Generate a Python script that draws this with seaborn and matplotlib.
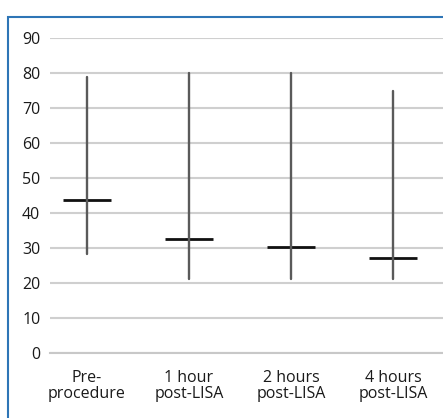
import numpy as np
import pandas as pd
import matplotlib
matplotlib.use("Agg")
import matplotlib.pyplot as plt
import seaborn as sns
from matplotlib.patches import Rectangle

# -----------------------------
# Data
# -----------------------------
groups = ["Pre-\nprocedure", "1 hour\npost-LISA", "2 hours\npost-LISA", "4 hours\npost-LISA"]
minimum = [28.4, 21.2, 21.2, 21.2]
median = [43.7, 32.6, 30.5, 27.1]
maximum = [79.0, 80.0, 80.0, 75.0]
y_ticks = [0, 10, 20, 30, 40, 50, 60, 70, 80, 90]

# long table: one row per min / median / max value
df = pd.DataFrame({
    "time": np.repeat(groups, 3),
    "value": np.column_stack([minimum, median, maximum]).ravel(),
})

sns.set_style("white")
plt.rcParams["font.family"] = ["Open Sans", "DejaVu Sans"]

fig = plt.figure(figsize=(4.43, 4.18), dpi=100)
ax = fig.add_axes([0.113, 0.155, 0.887, 0.753])

# frame around the figure
fig.patches.append(Rectangle((8 / 443, -0.1), 1.0, 1.1 - 17 / 418,
                             transform=fig.transFigure, fill=False,
                             edgecolor="#2e75b6", linewidth=1.5))

# -----------------------------
# Range lines + median marks
# -----------------------------
sns.pointplot(
    data=df, x="time", y="value", order=groups,
    estimator="median",
    errorbar=lambda v: (v.min(), v.max()),
    linestyle="none", marker="_", markersize=34, markeredgewidth=2.0,
    color="#111111",
    err_kws={"color": "#5a5a5a", "linewidth": 1.7},
    ax=ax, zorder=3,
)

ax.set_ylim(0, 90)
ax.set_xlim(-0.36, 3.49)
ax.set_yticks(y_ticks)
ax.set_xlabel("")
ax.set_ylabel("")

ax.grid(axis="y", color="#cfcfcf", linewidth=1.5)
ax.set_axisbelow(True)
for side in ["top", "right", "left"]:
    ax.spines[side].set_visible(False)
ax.spines["bottom"].set_color("#c8c8c8")
ax.spines["bottom"].set_linewidth(1.5)

ax.set_xticks([0.5, 1.5, 2.5], minor=True)
ax.tick_params(axis="x", which="major", length=0, labelsize=11.5, pad=12, colors="#1a1a1a")
ax.tick_params(axis="x", which="minor", length=3, color="#c8c8c8", width=1.2)
ax.tick_params(axis="y", length=0, labelsize=11.5, pad=7, colors="#1a1a1a")
for lab in ax.get_xticklabels():
    lab.set_linespacing(1.0)

fig.savefig("out.png", dpi=100)
